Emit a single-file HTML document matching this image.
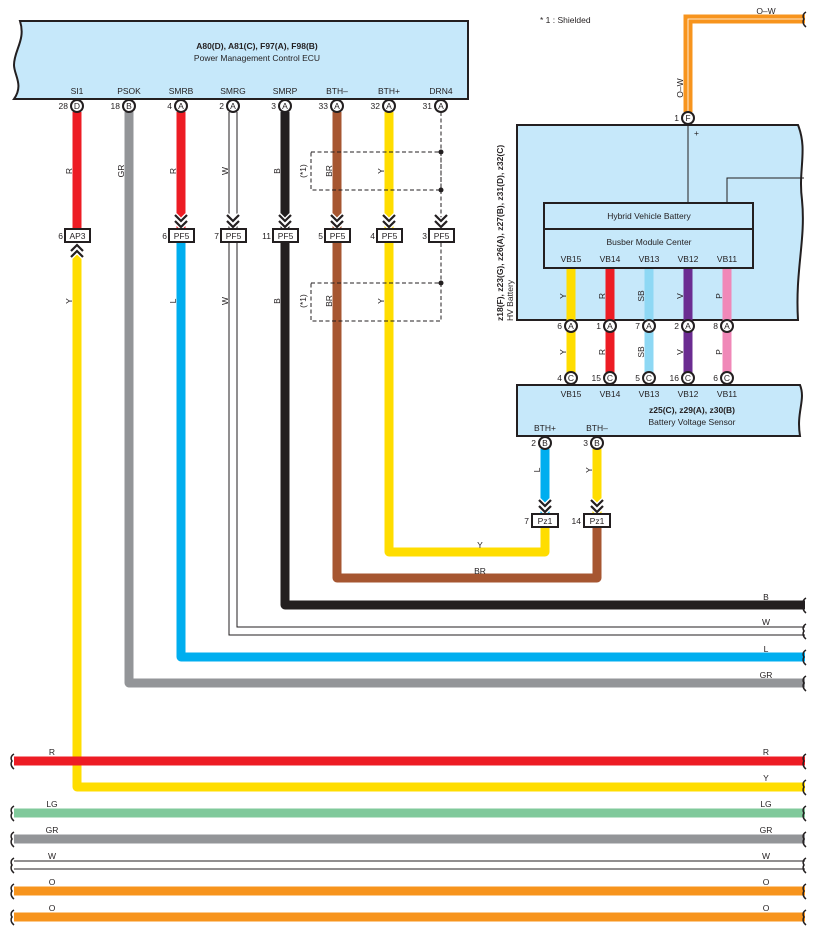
<!DOCTYPE html>
<html><head><meta charset="utf-8"><style>
html,body{margin:0;padding:0;background:#fff;}
svg{display:block;font-family:"Liberation Sans",Arial,sans-serif;}
text{font-size:8.5px;fill:#231f20;}
.b{font-weight:bold;}
</style></head><body>
<svg width="818" height="939" viewBox="0 0 818 939" xmlns="http://www.w3.org/2000/svg">
<defs>
<g id="chev"><polyline points="-6,-12 0,-6 6,-12" fill="none" stroke="#fff" stroke-width="5"/><polyline points="-6,-6 0,0 6,-6" fill="none" stroke="#fff" stroke-width="5"/><polyline points="-6,-12 0,-6 6,-12" fill="none" stroke="#231f20" stroke-width="2.2"/><polyline points="-6,-6 0,0 6,-6" fill="none" stroke="#231f20" stroke-width="2.2"/></g>
<path id="wav" d="M0,-7 C-5,-4 -2,0 -2,0 C-2,0 -5,4 0,8" fill="none" stroke="#231f20" stroke-width="1.5"/>
</defs>

<!-- ECU box -->
<path d="M20,21 L468,21 L468,99 L14,99 C24,85 14,75 14,65 C14,50 26,40 20,21 Z" fill="#c6e8fa" stroke="#231f20" stroke-width="2"/>
<text x="257" y="49" text-anchor="middle" class="b">A80(D), A81(C), F97(A), F98(B)</text>
<text x="257" y="61" text-anchor="middle">Power Management Control ECU</text>
<g text-anchor="middle">
<text x="77" y="94">SI1</text><text x="129" y="94">PSOK</text><text x="181" y="94">SMRB</text><text x="233" y="94">SMRG</text>
<text x="285" y="94">SMRP</text><text x="337" y="94">BTH–</text><text x="389" y="94">BTH+</text><text x="441" y="94">DRN4</text>
</g>

<text x="540" y="23" font-size="8">* 1 : Shielded</text>

<!-- O-W wire -->
<path d="M688,112 L688,19 L805,19" fill="none" stroke="#f7941d" stroke-width="9"/>
<path d="M688,112 L688,19 L805,19" fill="none" stroke="#fff" stroke-width="0.8"/>
<text x="766" y="14" text-anchor="middle">O–W</text>
<text transform="translate(683,88) rotate(-90)" text-anchor="middle">O–W</text>

<!-- HV battery box -->
<path d="M517,125 L798,125 C808,150 798,170 802,200 C806,240 795,270 798,320 L517,320 Z" fill="#c6e8fa" stroke="#231f20" stroke-width="2"/>
<line x1="688" y1="117" x2="688" y2="203" stroke="#231f20" stroke-width="1"/>
<text x="694" y="136">+</text>
<polyline points="727,203 727,178 804,178" fill="none" stroke="#231f20" stroke-width="1"/>
<rect x="544" y="203" width="209" height="65" fill="#c6e8fa" stroke="#231f20" stroke-width="2"/>
<line x1="544" y1="229" x2="753" y2="229" stroke="#231f20" stroke-width="2"/>
<text x="649" y="219" text-anchor="middle">Hybrid Vehicle Battery</text>
<text x="649" y="245" text-anchor="middle">Busber Module Center</text>
<g text-anchor="middle">
<text x="571" y="262">VB15</text><text x="610" y="262">VB14</text><text x="649" y="262">VB13</text><text x="688" y="262">VB12</text><text x="727" y="262">VB11</text>
</g>
<text transform="translate(503,321) rotate(-90)" class="b">z18(F), z23(G), z26(A), z27(B), z31(D), z32(C)</text>
<text transform="translate(513,321) rotate(-90)">HV Battery</text>

<!-- VB wires -->
<g stroke-width="9">
<line x1="571" y1="269" x2="571" y2="378" stroke="#ffdd00"/>
<line x1="610" y1="269" x2="610" y2="378" stroke="#ed1c24"/>
<line x1="649" y1="269" x2="649" y2="378" stroke="#8ed8f4"/>
<line x1="688" y1="269" x2="688" y2="378" stroke="#6b2c91"/>
<line x1="727" y1="269" x2="727" y2="378" stroke="#f088b8"/>
</g>
<g text-anchor="middle">
<text transform="translate(566,296) rotate(-90)">Y</text><text transform="translate(605,296) rotate(-90)">R</text><text transform="translate(644,296) rotate(-90)">SB</text><text transform="translate(683,296) rotate(-90)">V</text><text transform="translate(722,296) rotate(-90)">P</text>
<text transform="translate(566,352) rotate(-90)">Y</text><text transform="translate(605,352) rotate(-90)">R</text><text transform="translate(644,352) rotate(-90)">SB</text><text transform="translate(683,352) rotate(-90)">V</text><text transform="translate(722,352) rotate(-90)">P</text>
</g>

<!-- Sensor box -->
<path d="M517,385 L800,385 C806,400 796,412 800,436 L517,436 Z" fill="#c6e8fa" stroke="#231f20" stroke-width="2"/>
<g text-anchor="middle">
<text x="571" y="397">VB15</text><text x="610" y="397">VB14</text><text x="649" y="397">VB13</text><text x="688" y="397">VB12</text><text x="727" y="397">VB11</text>
</g>
<text x="692" y="413" text-anchor="middle" class="b">z25(C), z29(A), z30(B)</text>
<text x="692" y="425" text-anchor="middle">Battery Voltage Sensor</text>
<text x="545" y="431" text-anchor="middle">BTH+</text>
<text x="597" y="431" text-anchor="middle">BTH–</text>

<!-- BTH wires to Pz1 -->
<line x1="545" y1="449" x2="545" y2="514" stroke="#00aeef" stroke-width="9"/>
<line x1="597" y1="449" x2="597" y2="514" stroke="#ffdd00" stroke-width="9"/>
<text transform="translate(540,470) rotate(-90)" text-anchor="middle">L</text>
<text transform="translate(592,470) rotate(-90)" text-anchor="middle">Y</text>
<use href="#chev" x="545" y="512"/><use href="#chev" x="597" y="512"/>

<!-- Long wires from ECU -->
<g fill="none" stroke-width="9" stroke-linejoin="round">
<path d="M389,243 L389,552 L545,552 L545,528" stroke="#ffdd00"/>
<path d="M337,243 L337,578 L597,578 L597,528" stroke="#a65631"/>
<path d="M285,243 L285,605 L805,605" stroke="#231f20"/>
<path d="M181,243 L181,657 L805,657" stroke="#00aeef"/>
<path d="M129,112 L129,683 L805,683" stroke="#939598"/>
<path d="M77,255 L77,787 L805,787" stroke="#ffdd00"/>
</g>
<g fill="none" stroke="#231f20" stroke-width="1">
<path d="M229,243 L229,635 L805,635"/>
<path d="M237,243 L237,627 L805,627"/>
<path d="M229,112 L229,229 M237,112 L237,229"/>
</g>
<text x="480" y="548" text-anchor="middle">Y</text>
<text x="480" y="574" text-anchor="middle">BR</text>
<g text-anchor="middle">
<text x="766" y="600">B</text><text x="766" y="625">W</text><text x="766" y="652">L</text><text x="766" y="678">GR</text>
</g>

<!-- Upper ECU wires -->
<g stroke-width="9">
<line x1="77" y1="112" x2="77" y2="229" stroke="#ed1c24"/>
<line x1="181" y1="112" x2="181" y2="229" stroke="#ed1c24"/>
<line x1="285" y1="112" x2="285" y2="229" stroke="#231f20"/>
<line x1="337" y1="112" x2="337" y2="229" stroke="#a65631"/>
<line x1="389" y1="112" x2="389" y2="229" stroke="#ffdd00"/>
</g>
<line x1="441" y1="112" x2="441" y2="229" stroke="#231f20" stroke-width="1" stroke-dasharray="4,2.5"/>
<line x1="441" y1="243" x2="441" y2="283" stroke="#231f20" stroke-width="1" stroke-dasharray="4,2.5"/>

<!-- shield boxes -->
<g fill="none" stroke="#231f20" stroke-width="1" stroke-dasharray="4,2.5">
<rect x="311" y="152" width="130" height="38"/>
<rect x="311" y="283" width="130" height="38"/>
</g>
<g fill="#231f20"><circle cx="441" cy="152" r="2.5"/><circle cx="441" cy="190" r="2.5"/><circle cx="441" cy="283" r="2.5"/></g>

<g text-anchor="middle">
<text transform="translate(72,171) rotate(-90)">R</text>
<text transform="translate(124,171) rotate(-90)">GR</text>
<text transform="translate(176,171) rotate(-90)">R</text>
<text transform="translate(228,171) rotate(-90)">W</text>
<text transform="translate(280,171) rotate(-90)">B</text>
<text transform="translate(306,171) rotate(-90)">(*1)</text>
<text transform="translate(332,171) rotate(-90)">BR</text>
<text transform="translate(384,171) rotate(-90)">Y</text>
<text transform="translate(72,301) rotate(-90)">Y</text>
<text transform="translate(176,301) rotate(-90)">L</text>
<text transform="translate(228,301) rotate(-90)">W</text>
<text transform="translate(280,301) rotate(-90)">B</text>
<text transform="translate(306,301) rotate(-90)">(*1)</text>
<text transform="translate(332,301) rotate(-90)">BR</text>
<text transform="translate(384,301) rotate(-90)">Y</text>
</g>

<!-- chevrons -->
<use href="#chev" x="181" y="227"/><use href="#chev" x="233" y="227"/><use href="#chev" x="285" y="227"/>
<use href="#chev" x="337" y="227"/><use href="#chev" x="389" y="227"/><use href="#chev" x="441" y="227"/>
<use href="#chev" transform="translate(77,245) scale(1,-1)"/>

<!-- connector boxes -->
<g fill="#fff" stroke="#231f20" stroke-width="2">
<rect x="65" y="229" width="25" height="13"/>
<rect x="169" y="229" width="25" height="13"/><rect x="221" y="229" width="25" height="13"/>
<rect x="273" y="229" width="25" height="13"/><rect x="325" y="229" width="25" height="13"/>
<rect x="377" y="229" width="25" height="13"/><rect x="429" y="229" width="25" height="13"/>
<rect x="532" y="514" width="26" height="13"/><rect x="584" y="514" width="26" height="13"/>
</g>
<g text-anchor="middle">
<text x="77.5" y="239">AP3</text>
<text x="181.5" y="239">PF5</text><text x="233.5" y="239">PF5</text><text x="285.5" y="239">PF5</text>
<text x="337.5" y="239">PF5</text><text x="389.5" y="239">PF5</text><text x="441.5" y="239">PF5</text>
<text x="545" y="524">Pz1</text><text x="597" y="524">Pz1</text>
</g>
<g text-anchor="end">
<text x="63" y="239">6</text><text x="167" y="239">6</text><text x="219" y="239">7</text><text x="271" y="239">11</text>
<text x="323" y="239">5</text><text x="375" y="239">4</text><text x="427" y="239">3</text>
<text x="529" y="524">7</text><text x="581" y="524">14</text>
</g>

<!-- pins -->
<g fill="#fff" stroke="#231f20" stroke-width="2">
<circle cx="77" cy="106" r="6"/><circle cx="129" cy="106" r="6"/><circle cx="181" cy="106" r="6"/><circle cx="233" cy="106" r="6"/>
<circle cx="285" cy="106" r="6"/><circle cx="337" cy="106" r="6"/><circle cx="389" cy="106" r="6"/><circle cx="441" cy="106" r="6"/>
<circle cx="688" cy="118" r="6"/>
<circle cx="571" cy="326" r="6"/><circle cx="610" cy="326" r="6"/><circle cx="649" cy="326" r="6"/><circle cx="688" cy="326" r="6"/><circle cx="727" cy="326" r="6"/>
<circle cx="571" cy="378" r="6"/><circle cx="610" cy="378" r="6"/><circle cx="649" cy="378" r="6"/><circle cx="688" cy="378" r="6"/><circle cx="727" cy="378" r="6"/>
<circle cx="545" cy="443" r="6"/><circle cx="597" cy="443" r="6"/>
</g>
<g text-anchor="middle" font-size="8">
<text x="77" y="109">D</text><text x="129" y="109">B</text><text x="181" y="109">A</text><text x="233" y="109">A</text>
<text x="285" y="109">A</text><text x="337" y="109">A</text><text x="389" y="109">A</text><text x="441" y="109">A</text>
<text x="688" y="121">F</text>
<text x="571" y="329">A</text><text x="610" y="329">A</text><text x="649" y="329">A</text><text x="688" y="329">A</text><text x="727" y="329">A</text>
<text x="571" y="381">C</text><text x="610" y="381">C</text><text x="649" y="381">C</text><text x="688" y="381">C</text><text x="727" y="381">C</text>
<text x="545" y="446">B</text><text x="597" y="446">B</text>
</g>
<g text-anchor="end">
<text x="68" y="109">28</text><text x="120" y="109">18</text><text x="172" y="109">4</text><text x="224" y="109">2</text>
<text x="276" y="109">3</text><text x="328" y="109">33</text><text x="380" y="109">32</text><text x="432" y="109">31</text>
<text x="679" y="121">1</text>
<text x="562" y="329">6</text><text x="601" y="329">1</text><text x="640" y="329">7</text><text x="679" y="329">2</text><text x="718" y="329">8</text>
<text x="562" y="381">4</text><text x="601" y="381">15</text><text x="640" y="381">5</text><text x="679" y="381">16</text><text x="718" y="381">6</text>
<text x="536" y="446">2</text><text x="588" y="446">3</text>
</g>

<!-- bottom wires -->
<g stroke-width="9">
<line x1="14" y1="761" x2="805" y2="761" stroke="#ed1c24"/>
<line x1="14" y1="813" x2="805" y2="813" stroke="#80c99b"/>
<line x1="14" y1="839" x2="805" y2="839" stroke="#939598"/>
<line x1="14" y1="891" x2="805" y2="891" stroke="#f7941d"/>
<line x1="14" y1="917" x2="805" y2="917" stroke="#f7941d"/>
</g>
<line x1="14" y1="861" x2="805" y2="861" stroke="#231f20" stroke-width="1"/>
<line x1="14" y1="869" x2="805" y2="869" stroke="#231f20" stroke-width="1"/>
<g text-anchor="middle">
<text x="52" y="755">R</text><text x="766" y="755">R</text>
<text x="766" y="781">Y</text>
<text x="52" y="807">LG</text><text x="766" y="807">LG</text>
<text x="52" y="833">GR</text><text x="766" y="833">GR</text>
<text x="52" y="859">W</text><text x="766" y="859">W</text>
<text x="52" y="885">O</text><text x="766" y="885">O</text>
<text x="52" y="911">O</text><text x="766" y="911">O</text>
</g>

<!-- wavy ends -->
<g>
<use href="#wav" x="14" y="761"/><use href="#wav" x="14" y="813"/><use href="#wav" x="14" y="839"/>
<use href="#wav" x="14" y="865"/><use href="#wav" x="14" y="891"/><use href="#wav" x="14" y="917"/>
<use href="#wav" x="806" y="19"/><use href="#wav" x="806" y="605"/><use href="#wav" x="806" y="631"/>
<use href="#wav" x="806" y="657"/><use href="#wav" x="806" y="683"/><use href="#wav" x="806" y="761"/>
<use href="#wav" x="806" y="787"/><use href="#wav" x="806" y="813"/><use href="#wav" x="806" y="839"/>
<use href="#wav" x="806" y="865"/><use href="#wav" x="806" y="891"/><use href="#wav" x="806" y="917"/>
</g>
</svg>
</body></html>
